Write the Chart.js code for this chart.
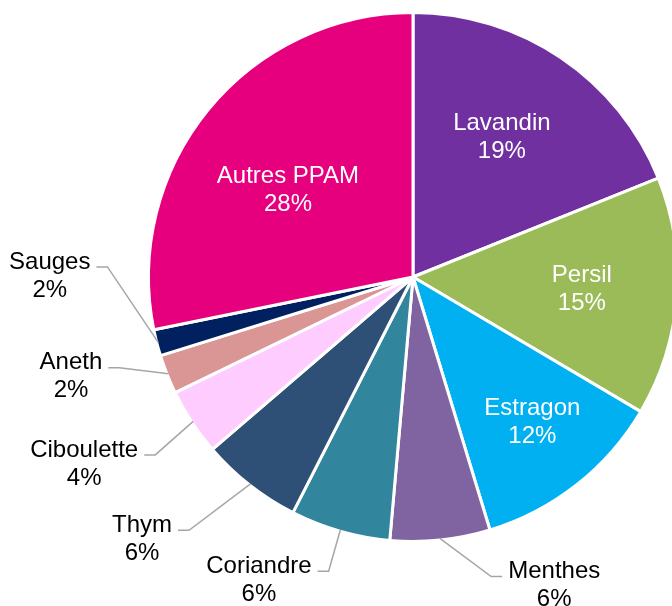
<!DOCTYPE html>
<html>
<head>
<meta charset="utf-8">
<script src="https://cdn.jsdelivr.net/npm/chart.js@4.4.0/dist/chart.umd.min.js"></script>
<style>
    html, body { margin: 0; padding: 0; background: #fff; }
    #frame { width: 672px; height: 606px; overflow: hidden; position: relative; }
    #wrap { width: 700px; height: 606px; position: absolute; left: 0; top: 0; }
</style>
</head>
<body>
<div id="frame"><div id="wrap"><canvas id="pieChart"></canvas></div></div>
<script>
const categories = ['Lavandin', 'Persil', 'Estragon', 'Menthes', 'Coriandre', 'Thym', 'Ciboulette', 'Aneth', 'Sauges', 'Autres PPAM'];
const shares = [18.9, 14.6, 11.8, 6.1, 6.1, 6.2, 4.1, 2.4, 1.6, 28.2];
const sliceColors = ['#7030A0', '#9BBB59', '#00B0F0', '#8064A2', '#31859C', '#2E5077', '#FFCCFF', '#D99694', '#002060', '#E6007E'];

// where each label goes: inside (fraction of radius, angle shift in degrees)
// or outside (offset from the slice edge, with a leader line)
const labelPlacement = [
    { inside: true, r: 0.625, da: -1.5 },
    { inside: true, r: 0.64, da: 0 },
    { inside: true, r: 0.71, da: -1.3 },
    { dx: 114, dy: 47 },
    { dx: -81.5, dy: 50.5 },
    { dx: -108.5, dy: 55.5 },
    { dx: -109, dy: 42.5 },
    { dx: -97.5, dy: 3 },
    { dx: -108.5, dy: -66.5 },
    { inside: true, r: 0.576, da: -4.4 }
];

const pieLabels = {
    id: 'pieLabels',
    afterDatasetsDraw(chart) {
        const ctx = chart.ctx;
        const meta = chart.getDatasetMeta(0);
        ctx.save();
        ctx.font = '24px "Liberation Sans", Arial, sans-serif';
        ctx.textAlign = 'center';
        ctx.textBaseline = 'middle';
        meta.data.forEach(function(arc, i) {
            const p = arc.getProps(['x', 'y', 'startAngle', 'endAngle', 'outerRadius'], true);
            const mid = (p.startAngle + p.endAngle) / 2;
            const lines = [categories[i], Math.round(shares[i]) + '%'];
            const place = labelPlacement[i];
            let cx, cy;
            if (place.inside) {
                const a = mid + place.da * Math.PI / 180;
                cx = p.x + Math.cos(a) * p.outerRadius * place.r;
                cy = p.y + Math.sin(a) * p.outerRadius * place.r;
                ctx.fillStyle = '#ffffff';
            } else {
                const edge = p.outerRadius - 1.5;
                const ax = p.x + Math.cos(mid) * edge;
                const ay = p.y + Math.sin(mid) * edge;
                cx = ax + place.dx;
                cy = ay + place.dy;
                const w = Math.max(ctx.measureText(lines[0]).width, ctx.measureText(lines[1]).width);
                const side = place.dx < 0 ? 1 : -1;
                const x1 = cx + side * (w / 2 + 6);
                const x2 = x1 + side * 11;
                const ly = cy - 9;
                ctx.strokeStyle = '#A6A6A6';
                ctx.lineWidth = 1.5;
                ctx.beginPath();
                ctx.moveTo(x1, ly);
                ctx.lineTo(x2, ly);
                ctx.lineTo(ax, ay);
                ctx.stroke();
                ctx.fillStyle = '#000000';
            }
            ctx.fillText(lines[0], cx, cy - 14);
            ctx.fillText(lines[1], cx, cy + 14);
        });
        ctx.restore();
    }
};

const ctx = document.getElementById('pieChart').getContext('2d');
const pieChart = new Chart(ctx, {
    type: 'pie',
    data: {
        labels: categories,
        datasets: [{
            data: shares,
            backgroundColor: sliceColors,
            borderColor: '#ffffff',
            borderWidth: 3
        }]
    },
    options: {
        responsive: true,
        maintainAspectRatio: false,
        animation: false,
        layout: {
            padding: { left: 147, top: 11, right: 21, bottom: 63 }
        },
        plugins: {
            legend: { display: false },
            tooltip: { enabled: false }
        }
    },
    plugins: [pieLabels]
});
</script>
</body>
</html>
